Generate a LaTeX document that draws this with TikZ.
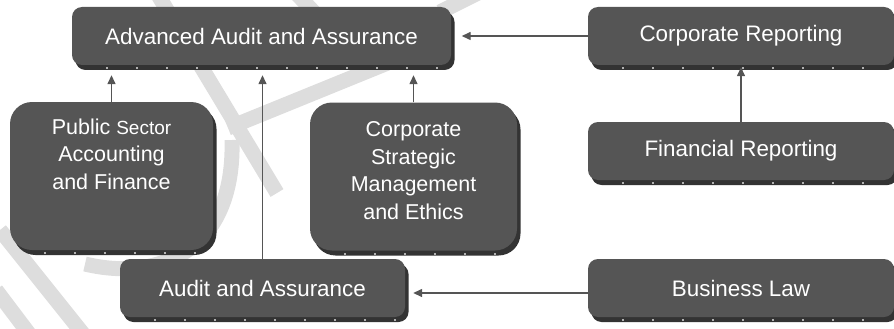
\documentclass[tikz,border=0pt]{standalone}
\usepackage{fontspec}
\setmainfont{Liberation Sans}
\usetikzlibrary{shadows,arrows.meta}
\definecolor{course}{RGB}{85,85,85}
\definecolor{wmark}{RGB}{221,221,221}
\tikzset{%
  course/.style={fill=course, text=white, rounded corners=10pt, inner sep=0pt,
    align=center, font=\fontsize{22.4}{26.5}\selectfont,
    drop shadow={shadow xshift=3.5pt, shadow yshift=-5pt, opacity=1, fill=black!80}},% exam box
  wide/.style={course, minimum width=#1, minimum height=58pt},% one line paper
  tall/.style={course, rounded corners=22pt, minimum width=#1, minimum height=148pt,
    font=\fontsize{21.5}{27.5}\selectfont},% several lines paper
  link/.style={draw=course, line width=1.4pt, -{Triangle[length=9pt,width=8pt]}},% leads to
  dots/.style={draw=black!30, line width=2pt, dash pattern=on 2pt off 28pt},% shadow dots
  wmarkline/.style={draw=wmark, line width=15pt}% background watermark
}

\begin{document}
\begin{tikzpicture}[x=1pt, y=-1pt]
\useasboundingbox (0,0) rectangle (894,329);

% watermark
\draw[wmarkline] (0,230) -- (84,335);
\draw[wmarkline] (-4,290) -- (30,335);
\draw[wmarkline] (158,-5) -- (277,193);
\draw[wmarkline] (228,128) -- (400,58);
\draw[wmarkline] (295,-8) -- (340,40);
\draw[wmarkline] (440,12) -- (480,-8);
\draw[wmarkline] (232,140) .. controls (235,250) and (160,282) .. (85,264);

\node[wide=379pt] (aaa) at (261.5,36) {Advanced Audit and Assurance};
\node[wide=306pt] (cr) at (741,36) {Corporate Reporting};
\node[wide=306pt] (fr) at (741,151) {Financial Reporting};
\node[wide=306pt] (bl) at (741,288) {Business Law};
\node[tall=203pt, text depth=44pt] (psaf) at (111.5,176)
  {Public {\fontsize{19}{20}\selectfont Sector}\\Accounting\\and Finance};
\node[tall=207pt, text depth=12pt] (csme) at (413.5,176.5)
  {Corporate\\Strategic\\Management\\and Ethics};
\node[wide=285pt] (aa) at (262.5,288) {Audit and Assurance};

\foreach \n in {aaa,cr,fr,bl,psaf,csme,aa}
  \draw[dots] ([xshift=34pt,yshift=-3pt]\n.south west) -- ([xshift=-8pt,yshift=-3pt]\n.south east);

\draw[link, shorten >=10pt] (psaf.north) -- (psaf.north |- aaa.south);
\draw[link, shorten >=10pt] (aa.north) -- (aa.north |- aaa.south);
\draw[link, shorten >=10pt] (csme.north) -- (csme.north |- aaa.south);
\draw[link, shorten >=2pt] (fr.north) -- (cr.south);
\draw[link, shorten >=10.5pt] (cr.west) -- (aaa.east);
\draw[link, shorten >=8pt] ([yshift=-5pt]bl.west) -- ([yshift=-5pt]aa.east);

\end{tikzpicture}
\end{document}
